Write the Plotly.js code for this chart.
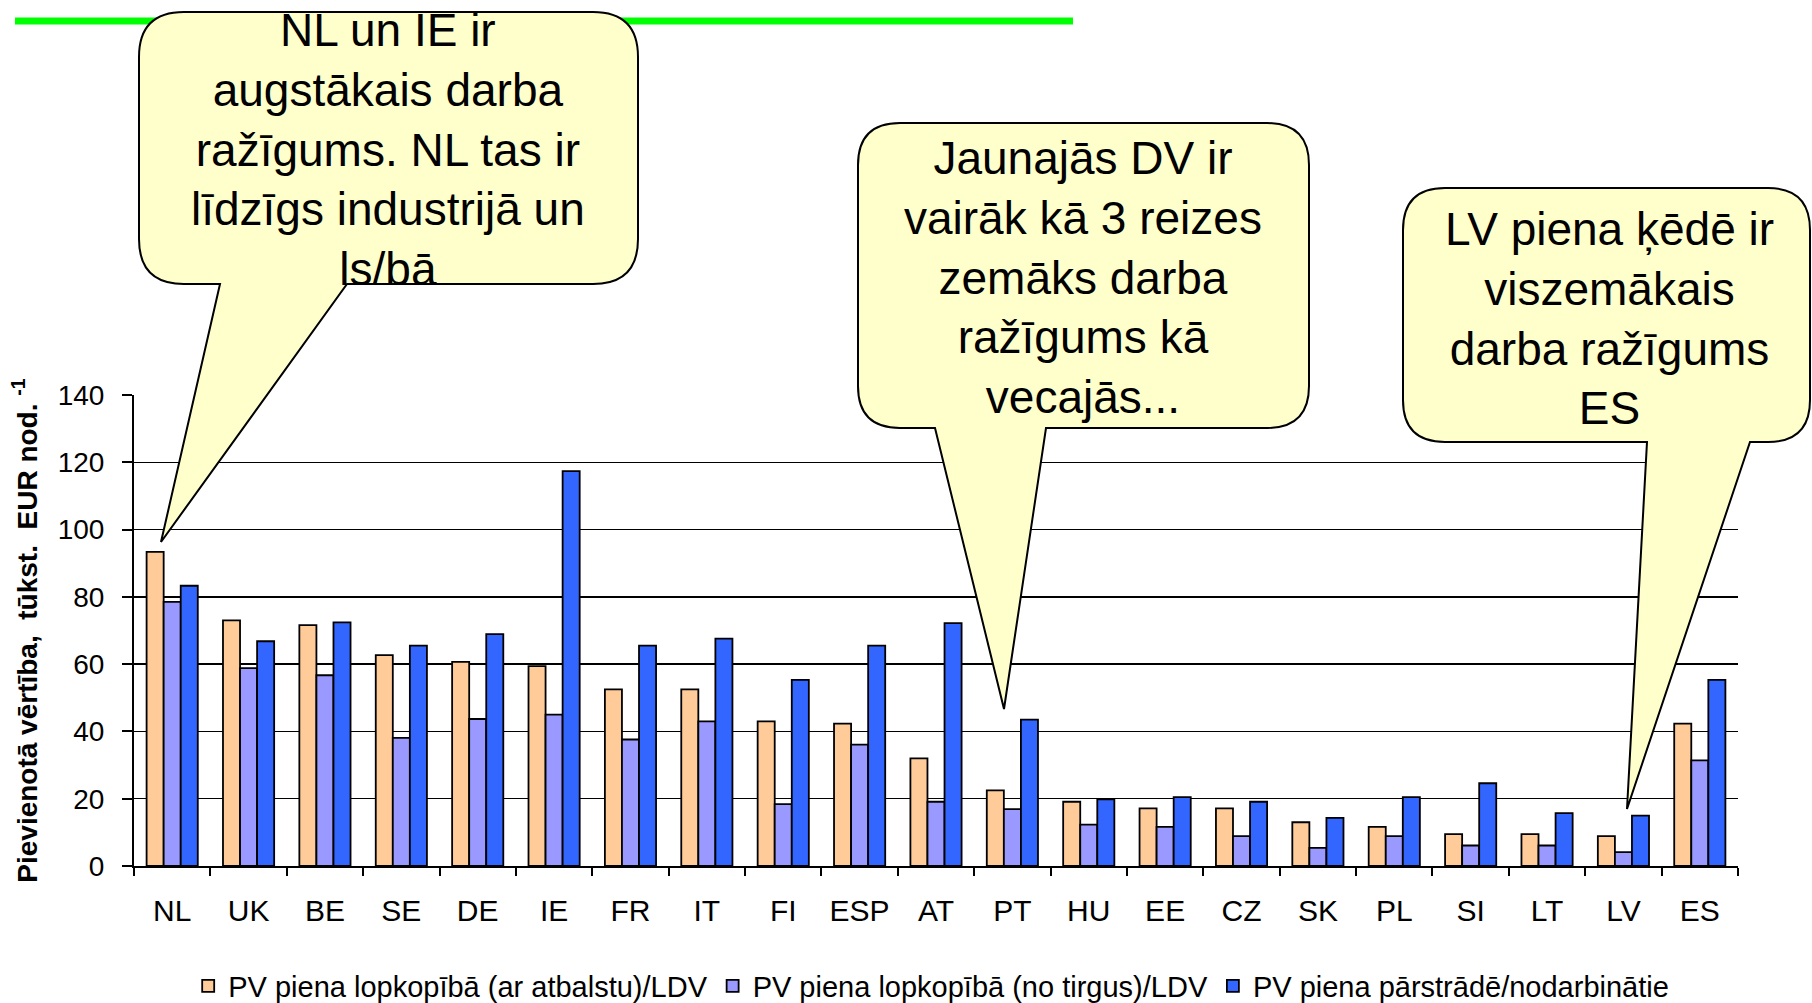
<!DOCTYPE html>
<html>
<head>
<meta charset="utf-8">
<script src="https://cdn.plot.ly/plotly-3.0.1.min.js"></script>
<style>
  html, body { margin: 0; padding: 0; background: #ffffff; }
  #chart { width: 1812px; height: 1003px; }
</style>
</head>
<body>
<div id="chart"></div>
<script>
// ---- data ----
const countries = ['NL','UK','BE','SE','DE','IE','FR','IT','FI','ESP','AT','PT','HU','EE','CZ','SK','PL','SI','LT','LV','ES'];
const pvWithSupport = [93.4, 73.0, 71.6, 62.7, 60.7, 59.4, 52.5, 52.5, 43.0, 42.3, 32.0, 22.5, 19.1, 17.1, 17.1, 13.0, 11.6, 9.5, 9.5, 8.9, 42.3];
const pvMarket      = [78.5, 58.8, 56.7, 38.1, 43.7, 45.0, 37.6, 43.0, 18.4, 36.1, 19.1, 16.9, 12.3, 11.6, 8.9, 5.4, 8.9, 6.1, 6.1, 4.1, 31.4];
const pvProcessing  = [83.3, 66.8, 72.4, 65.5, 68.9, 117.4, 65.5, 67.6, 55.3, 65.5, 72.2, 43.5, 19.8, 20.5, 19.1, 14.3, 20.5, 24.6, 15.7, 15.0, 55.3];
const seriesNames = [
  'PV piena lopkopībā (ar atbalstu)/LDV',
  'PV piena lopkopībā (no tirgus)/LDV',
  'PV piena pārstrādē/nodarbinātie'
];
const yTickValues = [0, 20, 40, 60, 80, 100, 120, 140];
const yTitle = '<b>Pievienotā vērtība,  tūkst.  EUR nod. <sup>-1</sup></b>';
const callout1 = 'NL un IE ir<br>augstākais darba<br>ražīgums. NL tas ir<br>līdzīgs industrijā un<br>ls/bā';
const callout2 = 'Jaunajās DV ir<br>vairāk kā 3 reizes<br>zemāks darba<br>ražīgums kā<br>vecajās...';
const callout3 = 'LV piena ķēdē ir<br>viszemākais<br>darba ražīgums<br>ES';

// ---- layout geometry (pixels) ----
const W = 1812, H = 1003;
const L = 134, R = 1738, T = 395, B = 866;
const px = x => (x - L) / (R - L);
const py = y => (B - y) / (B - T);

function bubble(x0, y0, x1, y1, r, tl, tr, tip) {
  const P = (x, y) => px(x) + ',' + py(y);
  return 'M' + P(x0 + r, y0) +
    ' L' + P(x1 - r, y0) +
    ' Q' + P(x1, y0) + ' ' + P(x1, y0 + r) +
    ' L' + P(x1, y1 - r) +
    ' Q' + P(x1, y1) + ' ' + P(x1 - r, y1) +
    ' L' + P(tr, y1) +
    ' L' + P(tip[0], tip[1]) +
    ' L' + P(tl, y1) +
    ' L' + P(x0 + r, y1) +
    ' Q' + P(x0, y1) + ' ' + P(x0, y1 - r) +
    ' L' + P(x0, y0 + r) +
    ' Q' + P(x0, y0) + ' ' + P(x0 + r, y0) + ' Z';
}

const font = 'Liberation Sans, Arial, sans-serif';
const colors = ['#FFCC99', '#9999FF', '#3366FF'];
const values = [pvWithSupport, pvMarket, pvProcessing];

const traces = values.map((v, i) => ({
  type: 'bar',
  x: countries,
  y: v,
  name: seriesNames[i],
  marker: { color: colors[i], line: { color: '#000000', width: 1.8 } },
  hoverinfo: 'x+y+name'
}));

const bubbleStyle = { type: 'path', xref: 'paper', yref: 'paper', fillcolor: '#FFFFCC', line: { color: '#000000', width: 2 }, layer: 'above' };
const calloutFont = { family: font, size: 46, color: '#000000' };

const layout = {
  width: W, height: H,
  paper_bgcolor: '#ffffff', plot_bgcolor: '#ffffff',
  margin: { l: L, r: W - R, t: T, b: H - B, pad: 0, autoexpand: false },
  font: { family: font, color: '#000000' },
  barmode: 'group',
  bargap: 0.33,
  bargroupgap: 0,
  showlegend: true,
  legend: {
    orientation: 'h', x: 0.497, xanchor: 'center', y: py(986), yanchor: 'middle',
    font: { family: font, size: 29, color: '#000000' },
    traceorder: 'normal', itemwidth: 30
  },
  xaxis: {
    type: 'category',
    showline: true, linecolor: '#000000', linewidth: 2,
    ticks: 'outside', ticklen: 8, tickcolor: '#000000', tickwidth: 2,
    tickson: 'boundaries',
    tickfont: { family: font, size: 30, color: '#000000' },
    ticklabelstandoff: 17,
    showgrid: false, zeroline: false, fixedrange: true
  },
  yaxis: {
    range: [0, 140], tickmode: 'array', tickvals: yTickValues,
    showline: true, linecolor: '#000000', linewidth: 2,
    ticks: 'outside', ticklen: 10, tickcolor: '#000000', tickwidth: 2,
    tickfont: { family: font, size: 28, color: '#000000' },
    ticklabelstandoff: 12,
    showgrid: true, gridcolor: '#000000', gridwidth: 1.4,
    zeroline: false, fixedrange: true,
    title: { text: yTitle, font: { family: font, size: 28, color: '#000000' }, standoff: 12 }
  },
  shapes: [
    { type: 'line', xref: 'paper', yref: 'paper', x0: px(15), x1: px(1073), y0: py(21), y1: py(21),
      line: { color: '#00FF00', width: 7 }, layer: 'above' },
    Object.assign({ path: bubble(139, 12, 638, 284, 45, 220, 347, [161, 542]) }, bubbleStyle),
    Object.assign({ path: bubble(858, 123, 1309, 428, 42, 935, 1046, [1004, 709]) }, bubbleStyle),
    Object.assign({ path: bubble(1403, 188, 1810, 442, 42, 1647, 1750, [1627, 809]) }, bubbleStyle)
  ],
  annotations: [
    { text: callout1, x: px(388), y: py(150), xref: 'paper', yref: 'paper', xanchor: 'center', yanchor: 'middle',
      showarrow: false, align: 'center', font: calloutFont },
    { text: callout2, x: px(1083), y: py(277), xref: 'paper', yref: 'paper', xanchor: 'center', yanchor: 'middle',
      showarrow: false, align: 'center', font: calloutFont },
    { text: callout3, x: px(1609), y: py(318), xref: 'paper', yref: 'paper', xanchor: 'center', yanchor: 'middle',
      showarrow: false, align: 'center', font: calloutFont }
  ]
};

Plotly.newPlot('chart', traces, layout, { displayModeBar: false, staticPlot: true });
</script>
</body>
</html>
